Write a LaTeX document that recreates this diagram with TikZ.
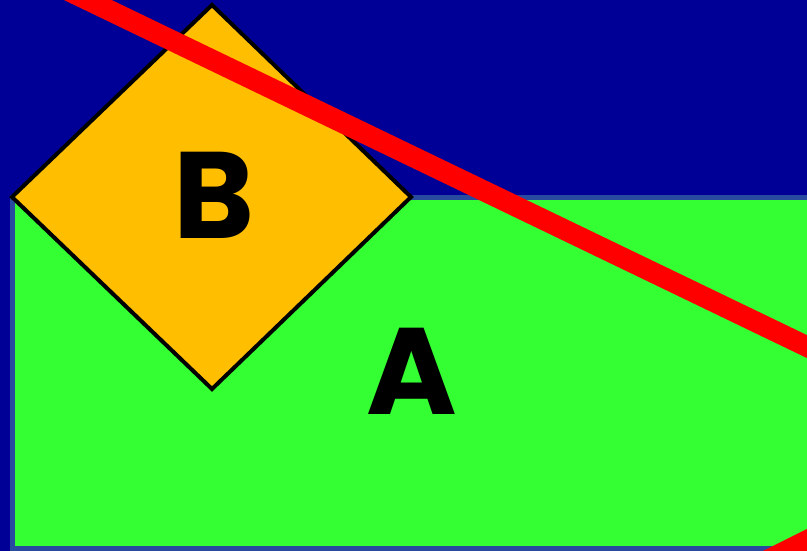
\documentclass[tikz,border=0pt]{standalone}
\usepackage{fontspec}
\setmainfont{Poppins}
\usepackage{tikz}
\definecolor{bgblue}{RGB}{0,0,150}
\definecolor{rectgreen}{RGB}{51,255,51}
\definecolor{rectedge}{RGB}{40,75,160}
\definecolor{diaorange}{RGB}{255,190,0}
\tikzset{
  bigletter/.style={font=\fontsize{123}{123}\selectfont\bfseries, inner sep=0pt},
  redbar/.style={draw=red, line width=20.7pt}
}

\begin{document}
\begin{tikzpicture}[x=1pt, y=-1pt]
    \useasboundingbox (0,0) rectangle (807,551);
    \clip (0,0) rectangle (807,551);
    \fill[bgblue] (0,0) rectangle (807,551);
    % rectangle A
    \draw[fill=rectgreen, draw=rectedge, line width=5pt] (12,197) rectangle (830,548);
    \node[bigletter, anchor=base] (a) at (412,414) {A};
    % diamond B
    \draw[fill=diaorange, line width=4pt, line join=miter] (212,5) -- (411,197) -- (212,389) -- (12,197) -- cycle;
    \node[bigletter, anchor=base] (b) at (214,238) {B};
    % red bars
    \draw[redbar] (60,-13.4) -- (840,362.5);
    \draw[redbar] (740,574) -- (840,524);
\end{tikzpicture}
\end{document}
